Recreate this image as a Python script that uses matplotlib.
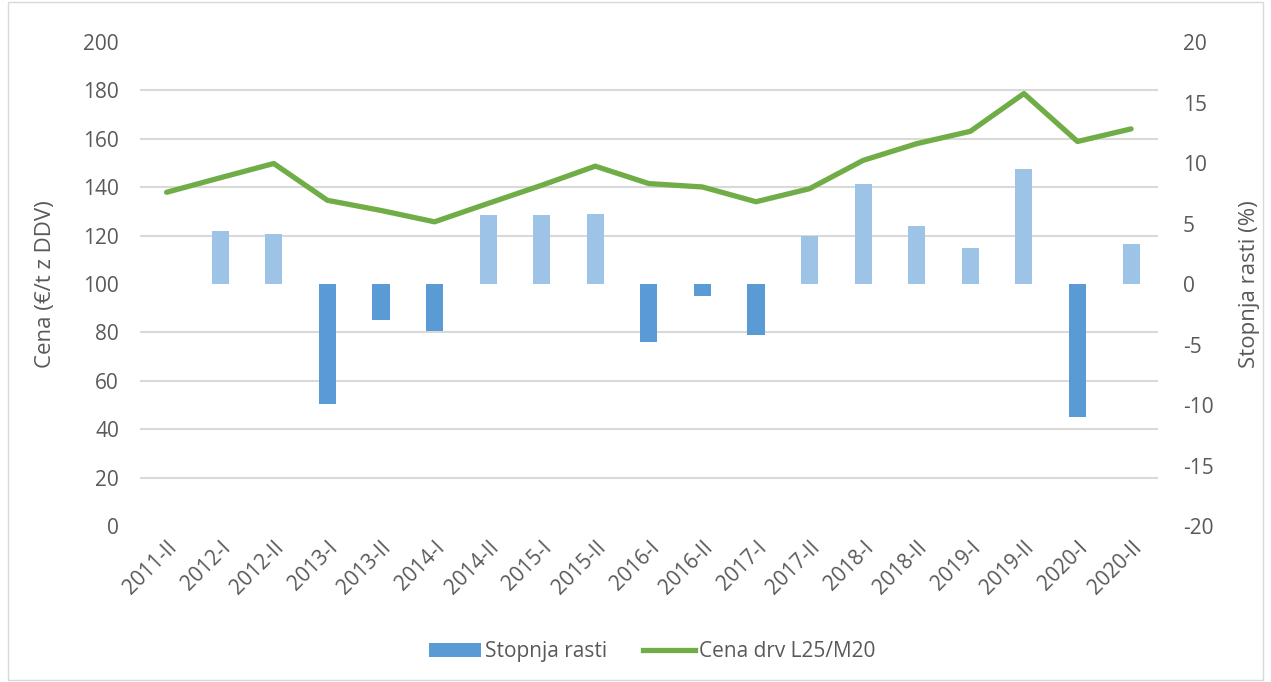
import matplotlib.pyplot as plt
from matplotlib.patches import Patch, Rectangle
from matplotlib.lines import Line2D
import numpy as np

# periods (half-years)
periods = ['2011-II', '2012-I', '2012-II', '2013-I', '2013-II', '2014-I', '2014-II',
           '2015-I', '2015-II', '2016-I', '2016-II', '2017-I', '2017-II', '2018-I',
           '2018-II', '2019-I', '2019-II', '2020-I', '2020-II']

# price of firewood L25/M20 (EUR/t incl. VAT)
price = [137.9, 143.9, 149.8, 134.6, 130.4, 125.7, 133.3, 140.8, 148.7, 141.5,
         140.1, 134.0, 139.4, 151.1, 158.0, 163.1, 178.7, 158.9, 164.1]

# growth rate (%) - no bar for first period
growth = [0.0, 4.4, 4.1, -9.9, -3.0, -3.9, 5.7, 5.7, 5.8, -4.8,
          -1.0, -4.2, 4.0, 8.3, 4.8, 3.0, 9.5, -11.0, 3.3]

plt.rcParams['font.family'] = ['Open Sans', 'DejaVu Sans']
plt.rcParams['axes.unicode_minus'] = False
text_col = '#595959'
grid_col = '#D9D9D9'

fig = plt.figure(figsize=(12.71, 6.82), dpi=100)
ax = fig.add_axes([0.110, 0.2287, 0.801, 0.7097])
axb = ax.twinx()

x = np.arange(len(periods))
bar_cols = ['#9DC3E6' if g >= 0 else '#5B9BD5' for g in growth]
axb.bar(x, growth, width=0.32, color=bar_cols, zorder=3)
axb.set_ylim(-20, 20)
axb.set_yticks(np.arange(-20, 21, 5))
axb.set_yticks(np.arange(-20, 21, 4), minor=True)
axb.grid(which='minor', axis='y', color=grid_col, linewidth=1.5, zorder=0)
axb.set_axisbelow(True)
axb.tick_params(axis='y', which='both', length=0, labelsize=15, labelcolor=text_col, pad=18)
axb.set_ylabel('Stopnja rasti (%)', fontsize=16, color=text_col)
axb.yaxis.set_label_coords(1.080, 0.5)

ax.set_zorder(axb.get_zorder() + 1)
ax.patch.set_visible(False)
ax.plot(x, price, color='#70AD47', linewidth=3.8, solid_capstyle='round', zorder=4)
ax.set_ylim(0, 200)
ax.set_yticks(np.arange(0, 201, 20))
ax.set_xlim(-0.5, len(periods) - 0.5)
ax.set_xticks(x)
ax.set_xticklabels(periods, rotation=45, ha='right', rotation_mode='anchor')
ax.tick_params(axis='both', length=0, labelsize=15, labelcolor=text_col)
ax.tick_params(axis='y', pad=15)
ax.tick_params(axis='x', pad=8)
ax.set_ylabel('Cena (€/t z DDV)', fontsize=16, color=text_col)
ax.yaxis.set_label_coords(-0.0825, 0.5)

for a in (ax, axb):
    for s in a.spines.values():
        s.set_visible(False)

handles = [Patch(facecolor='#5B9BD5', edgecolor='none'),
           Line2D([0], [0], color='#70AD47', linewidth=3.8)]
fig.legend(handles, ['Stopnja rasti', 'Cena drv L25/M20'], loc='center',
           bbox_to_anchor=(0.513, 0.044), ncol=2, frameon=False, fontsize=15,
           labelcolor=text_col, handlelength=2.5, columnspacing=1.7, handletextpad=0.2)

fig.patches.append(Rectangle((0.006, 0.003), 0.988, 0.994, transform=fig.transFigure,
                             fill=False, edgecolor=grid_col, linewidth=1))

fig.savefig('out.png', dpi=100)
